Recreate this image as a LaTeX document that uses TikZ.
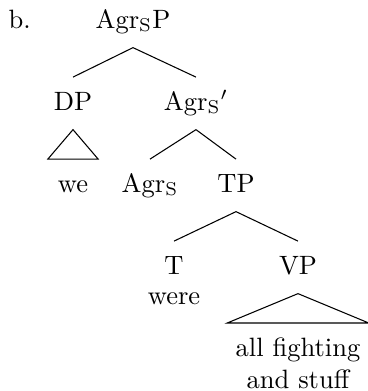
\documentclass[tikz,border=0pt]{standalone}
\begin{document}
\begin{tikzpicture}[x=0.377pt,y=-0.377pt,
  lab/.style={inner xsep=0pt,inner ysep=5.2pt,text height=7pt,text depth=2pt,anchor=base},
  plain/.style={inner sep=0pt,anchor=base},
  branch/.style={line width=0.4pt},
  roof/.style={line width=0.4pt,line join=miter}]
\useasboundingbox (0,0) rectangle (368,391);

% example number
\node[plain,anchor=base west] (ex) at (8,28) {b.};

% tree labels
\node[lab] (agrsp) at (133,28) {Agr$_{\mathrm{S}}$P};
\node[lab] (dp) at (73,110) {DP};
\node[lab] (agrsbar) at (196,110) {Agr$_{\mathrm{S}}{}'$};
\node[lab] (we) at (73,192) {we};
\node[lab] (agrs) at (150,192) {Agr$_{\mathrm{S}}$};
\node[lab] (tp) at (236,192) {TP};
\node[lab] (t) at (174,274) {T};
\node[plain] (were) at (174,304) {were};
\node[lab] (vp) at (298,274) {VP};
\node[inner xsep=3pt,inner ysep=5.5pt,align=center,anchor=north] (afs) at (298,323)
  {all fighting\\and stuff};

% branches
\draw[branch] (agrsp.south) -- (dp.north);
\draw[branch] (agrsp.south) -- (agrsbar.north);
\draw[branch] (agrsbar.south) -- (agrs.north);
\draw[branch] (agrsbar.south) -- (tp.north);
\draw[branch] (tp.south) -- (t.north);
\draw[branch] (tp.south) -- (vp.north);

% roofs over unanalysed material
\draw[roof] (dp.south) -- ([xshift=-3.6pt]we.north west) -- ([xshift=3.6pt]we.north east) -- cycle;
\draw[roof] (vp.south) -- (afs.north west) -- (afs.north east) -- cycle;
\end{tikzpicture}
\end{document}
